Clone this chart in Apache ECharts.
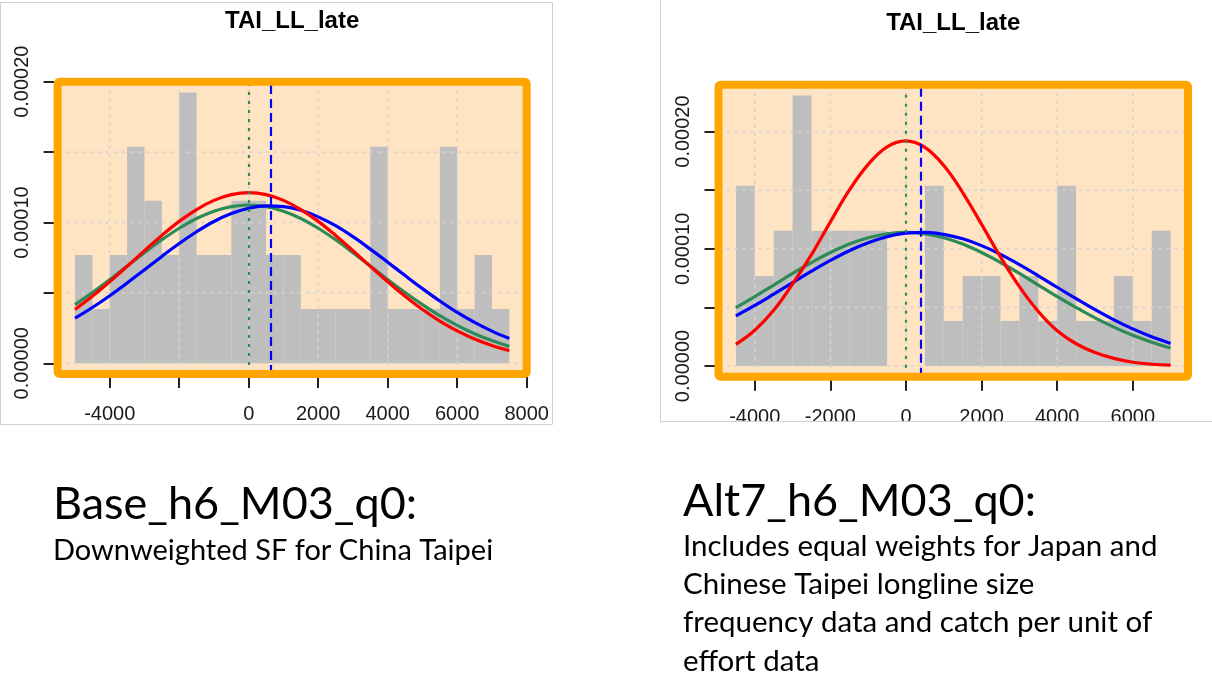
<!DOCTYPE html>
<html>
<head>
<meta charset="utf-8">
<title>TAI_LL_late</title>
<script src="https://cdn.jsdelivr.net/npm/echarts@6/dist/echarts.min.js"></script>
<style>
  html, body { margin: 0; padding: 0; background: #ffffff; }
  #chart { width: 1212px; height: 679px; }
</style>
</head>
<body>
<div id="chart"></div>
<script>
// ---------- data ----------
// histogram bins (bin edges) and densities, Base_h6_M03_q0
const leftBinEdges = [-5000, -4500, -4000, -3500, -3000, -2500, -2000, -1500, -1000, -500, 0, 500, 1000,
  1500, 2000, 2500, 3000, 3500, 4000, 4500, 5000, 5500, 6000, 6500, 7000, 7500];
const leftHistDensity = [7.69e-5, 3.85e-5, 7.69e-5, 1.538e-4, 1.154e-4, 7.69e-5, 1.923e-4, 7.69e-5, 7.69e-5,
  1.154e-4, 1.154e-4, 7.69e-5, 7.69e-5, 3.85e-5, 3.85e-5, 3.85e-5, 3.85e-5, 1.538e-4, 3.85e-5, 3.85e-5,
  3.85e-5, 1.538e-4, 3.85e-5, 7.69e-5, 3.85e-5];

// histogram bins and densities, Alt7_h6_M03_q0
const rightBinEdges = [-4500, -4000, -3500, -3000, -2500, -2000, -1500, -1000, -500, 0, 500, 1000, 1500,
  2000, 2500, 3000, 3500, 4000, 4500, 5000, 5500, 6000, 6500, 7000];
const rightHistDensity = [1.538e-4, 7.69e-5, 1.154e-4, 2.308e-4, 1.154e-4, 1.154e-4, 1.154e-4, 1.154e-4,
  0, 0, 1.538e-4, 3.85e-5, 7.69e-5, 7.69e-5, 3.85e-5, 7.69e-5, 3.85e-5, 1.538e-4, 3.85e-5, 3.85e-5,
  7.69e-5, 3.85e-5, 1.154e-4];

// fitted density curves
const leftCurveX = [-5000, -4500, -4000, -3500, -3000, -2500, -2000, -1500, -1000, -500, 0, 500, 1000,
  1500, 2000, 2500, 3000, 3500, 4000, 4500, 5000, 5500, 6000, 6500, 7000, 7500];
const leftRed = [3.82e-5, 4.76e-5, 5.79e-5, 6.88e-5, 8.00e-5, 9.08e-5, 10.08e-5, 10.92e-5, 11.57e-5,
  11.98e-5, 12.12e-5, 11.98e-5, 11.57e-5, 10.92e-5, 10.08e-5, 9.08e-5, 8.00e-5, 6.88e-5, 5.79e-5,
  4.76e-5, 3.82e-5, 3.00e-5, 2.30e-5, 1.72e-5, 1.26e-5, 0.90e-5];
const leftGreen = [4.17e-5, 5.03e-5, 5.95e-5, 6.91e-5, 7.86e-5, 8.77e-5, 9.59e-5, 10.28e-5, 10.80e-5,
  11.13e-5, 11.24e-5, 11.13e-5, 10.80e-5, 10.28e-5, 9.59e-5, 8.77e-5, 7.86e-5, 6.91e-5, 5.95e-5,
  5.03e-5, 4.17e-5, 3.38e-5, 2.69e-5, 2.10e-5, 1.61e-5, 1.20e-5];
const leftBlue = [3.20e-5, 3.96e-5, 4.80e-5, 5.70e-5, 6.64e-5, 7.59e-5, 8.51e-5, 9.34e-5, 10.07e-5,
  10.63e-5, 11.01e-5, 11.18e-5, 11.13e-5, 10.87e-5, 10.40e-5, 9.77e-5, 8.99e-5, 8.11e-5, 7.18e-5,
  6.23e-5, 5.30e-5, 4.42e-5, 3.61e-5, 2.90e-5, 2.28e-5, 1.76e-5];

const rightCurveX = [-4500, -4000, -3500, -3000, -2500, -2000, -1500, -1000, -500, 0, 500, 1000, 1500,
  2000, 2500, 3000, 3500, 4000, 4500, 5000, 5500, 6000, 6500, 7000];
const rightRed = [1.85e-5, 3.05e-5, 4.75e-5, 7.00e-5, 9.50e-5, 12.30e-5, 15.00e-5, 17.20e-5, 18.70e-5,
  19.20e-5, 18.65e-5, 17.10e-5, 14.80e-5, 12.08e-5, 9.31e-5, 6.77e-5, 4.65e-5, 3.01e-5, 1.90e-5,
  1.15e-5, 0.65e-5, 0.32e-5, 0.15e-5, 0.08e-5];
const rightGreen = [4.99e-5, 5.93e-5, 6.91e-5, 7.90e-5, 8.83e-5, 9.68e-5, 10.40e-5, 10.94e-5, 11.28e-5,
  11.40e-5, 11.28e-5, 10.94e-5, 10.40e-5, 9.68e-5, 8.83e-5, 7.90e-5, 6.91e-5, 5.93e-5, 4.99e-5,
  4.11e-5, 3.32e-5, 2.62e-5, 2.03e-5, 1.54e-5];
const rightBlue = [4.28e-5, 5.17e-5, 6.13e-5, 7.11e-5, 8.09e-5, 9.01e-5, 9.84e-5, 10.52e-5, 11.03e-5,
  11.33e-5, 11.40e-5, 11.23e-5, 10.85e-5, 10.27e-5, 9.52e-5, 8.65e-5, 7.70e-5, 6.72e-5, 5.74e-5,
  4.81e-5, 3.94e-5, 3.17e-5, 2.50e-5, 1.93e-5];

// reference lines (green dotted, blue dashed)
const leftRefLines = [0, 640];
const rightRefLines = [0, 400];

// axis ticks and labels
const leftXTicks = [-4000, -2000, 0, 2000, 4000, 6000, 8000];
const leftXLabels = [-4000, 0, 2000, 4000, 6000, 8000];
const rightXTicks = [-4000, -2000, 0, 2000, 4000, 6000];
const rightXLabels = [-4000, -2000, 0, 2000, 4000, 6000];
const yTicks = [0, 0.00005, 0.0001, 0.00015, 0.0002];
const yLabels = [0, 0.0001, 0.0002];

const panelTitle = 'TAI_LL_late';
const leftCaption = ['Base_h6_M03_q0:', 'Downweighted SF for China Taipei'];
const rightCaption = ['Alt7_h6_M03_q0:', 'Includes equal weights for Japan and',
  'Chinese Taipei longline size', 'frequency data and catch per unit of', 'effort data'];

// ---------- layout ----------
const LP = { left: 57.6, top: 81.7, width: 469.1, height: 292.4 };
const RP = { left: 718.5, top: 84.7, width: 469.5, height: 292.1 };
const leftRange = { x: [-5500, 8000], y: [-0.0000077, 0.0002] };
const rightRange = { x: [-4960, 7460], y: [-0.0000092, 0.00024] };

const C = {
  bg: '#FFE4C4', frame: '#FFA500', bar: '#BEBEBE', grid: '#D3D3D3',
  red: '#FF0000', green: '#2E8B57', blue: '#0000FF'
};
const AXIS_FONT = 'Liberation Sans';
const TEXT_FONT = 'Lato';

function histData(edges, dens) {
  return dens.map((d, i) => [edges[i], edges[i + 1], d]);
}
function pairs(xs, ys) { return xs.map((x, i) => [x, ys[i]]); }

function xAxisFor(gi, range, ticks, labels, margin) {
  return {
    type: 'value', gridIndex: gi, min: range.x[0], max: range.x[1],
    axisLine: { show: false, onZero: false }, splitLine: { show: false },
    axisTick: { show: true, length: 14, customValues: ticks, lineStyle: { color: '#222', width: 2 } },
    axisLabel: { show: true, customValues: labels, margin: margin, color: '#1a1a1a',
      fontFamily: AXIS_FONT, fontSize: 20, formatter: v => String(v) }
  };
}
function yAxisFor(gi, range, margin) {
  return {
    type: 'value', gridIndex: gi, min: range.y[0], max: range.y[1],
    axisLine: { show: false, onZero: false }, splitLine: { show: false },
    axisTick: { show: true, length: 14, customValues: yTicks, lineStyle: { color: '#222', width: 2 } },
    axisLabel: { show: true, customValues: yLabels, rotate: 90, margin: margin, color: '#1a1a1a',
      fontFamily: AXIS_FONT, fontSize: 20, formatter: v => v.toFixed(5) }
  };
}

function histSeries(idx, data) {
  return {
    type: 'custom', xAxisIndex: idx, yAxisIndex: idx, z: 1, silent: true,
    data: data, encode: { x: [0, 1], y: 2 },
    renderItem: (params, api) => {
      const p0 = api.coord([api.value(0), api.value(2)]);
      const p1 = api.coord([api.value(1), 0]);
      return { type: 'rect', shape: { x: p0[0], y: p0[1], width: p1[0] - p0[0], height: p1[1] - p0[1] },
        style: { fill: C.bar } };
    }
  };
}
// dotted background grid: item = [value, 0] for a vertical line, [value, 1] for a horizontal one
function gridLineSeries(idx, xTicks, range) {
  const items = xTicks.map(v => [v, 0]).concat(yTicks.map(v => [v, 1]));
  return {
    type: 'custom', xAxisIndex: idx, yAxisIndex: idx, z: 2, silent: true,
    data: items, dimensions: ['v', 'kind'], encode: { x: -1, y: -1 },
    renderItem: (params, api) => {
      const cs = params.coordSys;
      const v = api.value(0);
      let shape;
      if (api.value(1) === 0) {
        const x = api.coord([v, range.y[0]])[0];
        shape = { x1: x, y1: cs.y, x2: x, y2: cs.y + cs.height };
      } else {
        const y = api.coord([range.x[0], v])[1];
        shape = { x1: cs.x, y1: y, x2: cs.x + cs.width, y2: y };
      }
      return { type: 'line', shape: shape,
        style: { stroke: C.grid, lineWidth: 1.6, lineDash: [3, 5] } };
    }
  };
}
function curveSeries(idx, xs, ys, color) {
  return {
    type: 'line', xAxisIndex: idx, yAxisIndex: idx, z: 3, silent: true,
    data: pairs(xs, ys), smooth: 0.4, showSymbol: false,
    lineStyle: { color: color, width: 3.2 }
  };
}
function refLineSeries(idx, refs) {
  return {
    type: 'line', xAxisIndex: idx, yAxisIndex: idx, data: [], z: 4, silent: true,
    markLine: {
      silent: true, symbol: ['none', 'none'], animation: false, label: { show: false },
      data: [
        { xAxis: refs[0], lineStyle: { color: C.green, type: [3, 6], width: 2.2 } },
        { xAxis: refs[1], lineStyle: { color: C.blue, type: [9, 5], width: 2.2 } }
      ]
    }
  };
}

function frameRect(p) {
  return { type: 'rect', z: 100, silent: true,
    shape: { x: p.left, y: p.top, width: p.width, height: p.height, r: 2 },
    style: { fill: null, stroke: C.frame, lineWidth: 8, lineJoin: 'round' } };
}
function textEl(str, x, y, size, weight, align) {
  return { type: 'text', z: 100, silent: true, x: x, y: y,
    style: { text: str, fontSize: size, fontFamily: weight === 'bold' ? AXIS_FONT : TEXT_FONT,
      fontWeight: weight, fill: '#000', align: align, verticalAlign: 'middle' } };
}

const chart = echarts.init(document.getElementById('chart'), null, { renderer: 'canvas' });

const option = {
  backgroundColor: '#ffffff',
  animation: false,
  grid: [
    Object.assign({ show: true, backgroundColor: C.bg, borderWidth: 0 }, LP),
    Object.assign({ show: true, backgroundColor: C.bg, borderWidth: 0 }, RP)
  ],
  xAxis: [
    xAxisFor(0, leftRange, leftXTicks, leftXLabels, 30),
    xAxisFor(1, rightRange, rightXTicks, rightXLabels, 31)
  ],
  yAxis: [
    yAxisFor(0, leftRange, 25),
    yAxisFor(1, rightRange, 25)
  ],
  series: [
    histSeries(0, histData(leftBinEdges, leftHistDensity)),
    gridLineSeries(0, leftXTicks, leftRange),
    curveSeries(0, leftCurveX, leftGreen, C.green),
    curveSeries(0, leftCurveX, leftBlue, C.blue),
    curveSeries(0, leftCurveX, leftRed, C.red),
    refLineSeries(0, leftRefLines),

    histSeries(1, histData(rightBinEdges, rightHistDensity)),
    gridLineSeries(1, rightXTicks, rightRange),
    curveSeries(1, rightCurveX, rightGreen, C.green),
    curveSeries(1, rightCurveX, rightBlue, C.blue),
    curveSeries(1, rightCurveX, rightRed, C.red),
    refLineSeries(1, rightRefLines)
  ],
  graphic: [
    // picture borders
    { type: 'rect', z: 90, silent: true, shape: { x: 0.5, y: 2.5, width: 552, height: 422 },
      style: { fill: null, stroke: '#D0D0D0', lineWidth: 1 } },
    // right picture is cropped just under its tick labels
    { type: 'rect', z: 95, silent: true, shape: { x: 661, y: 421.5, width: 551, height: 30 },
      style: { fill: '#ffffff' } },
    { type: 'polyline', z: 96, silent: true, shape: { points: [[660.5, 0], [660.5, 421.5], [1212, 421.5]] },
      style: { fill: null, stroke: '#D0D0D0', lineWidth: 1 } },
    frameRect(LP),
    frameRect(RP),
    textEl(panelTitle, LP.left + LP.width / 2, 21, 24, 'bold', 'center'),
    textEl(panelTitle, RP.left + RP.width / 2, 23, 24, 'bold', 'center'),
    textEl(leftCaption[0], 53, 504, 45, 'normal', 'left'),
    textEl(leftCaption[1], 53, 551, 29, 'normal', 'left'),
    textEl(rightCaption[0], 683, 501, 45, 'normal', 'left'),
    textEl(rightCaption[1], 683, 546, 29.5, 'normal', 'left'),
    textEl(rightCaption[2], 683, 584, 29.5, 'normal', 'left'),
    textEl(rightCaption[3], 683, 622, 29.5, 'normal', 'left'),
    textEl(rightCaption[4], 683, 661, 29.5, 'normal', 'left')
  ]
};
chart.setOption(option);
</script>
</body>
</html>
